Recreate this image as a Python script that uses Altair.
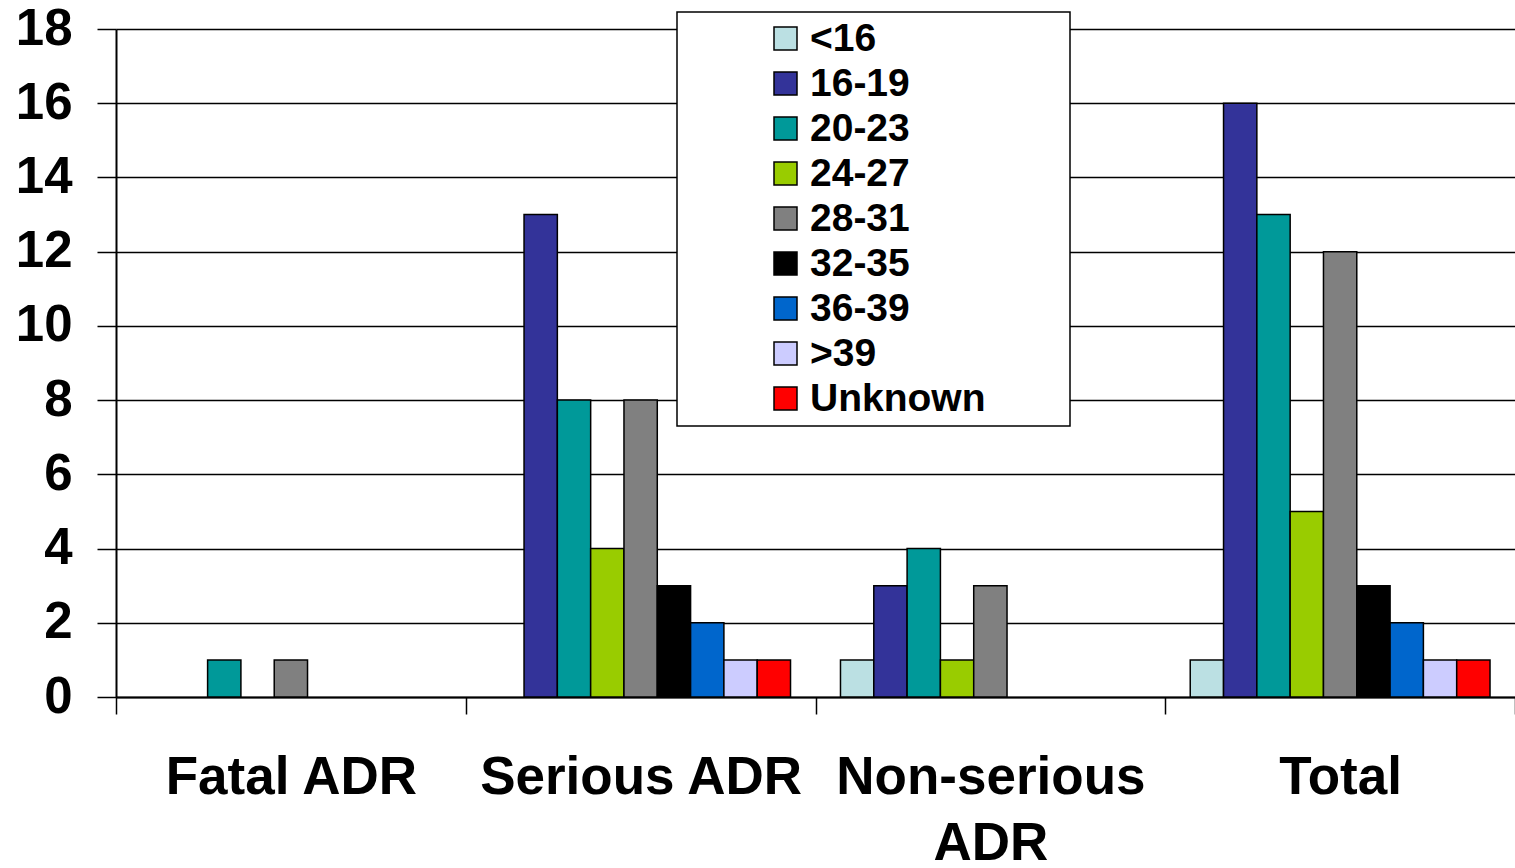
import altair as alt
import pandas as pd

categories = ["Fatal ADR", "Serious ADR", "Non-serious ADR", "Total"]
age_groups = ["<16", "16-19", "20-23", "24-27", "28-31", "32-35", "36-39", ">39", "Unknown"]
colors = ["#BBE0E3", "#333399", "#009999", "#99CC00", "#808080", "#000000", "#0066CC", "#CCCCFF", "#FF0000"]

fatal_adr = [0, 0, 1, 0, 1, 0, 0, 0, 0]
serious_adr = [0, 13, 8, 4, 8, 3, 2, 1, 1]
nonserious_adr = [1, 3, 4, 1, 3, 0, 0, 0, 0]
total_adr = [1, 16, 13, 5, 12, 3, 2, 1, 1]

series = [fatal_adr, serious_adr, nonserious_adr, total_adr]
rows = []
for cat, vals in zip(categories, series):
    for g, v in zip(age_groups, vals):
        if v > 0:
            rows.append({"category": cat, "age": g, "value": v})
df = pd.DataFrame(rows)

FONT = "Liberation Sans"

bars = alt.Chart(df).mark_bar(stroke="black", strokeWidth=1.5).encode(
    x=alt.X("category:N", sort=categories,
            scale=alt.Scale(domain=categories, paddingInner=0, paddingOuter=0),
            axis=alt.Axis(title=None, labelAngle=0, labelFontSize=53, labelFont=FONT,
                          labelFontWeight="bold", labelColor="black", tickBand="extent",
                          tickSize=17, tickColor="black", tickWidth=1.5, domainColor="black",
                          domainWidth=2, labelPadding=37, labelLineHeight=66,
                          labelOverlap=False, labelLimit=1000,
                          labelExpr="datum.label == 'Non-serious ADR' ? ['Non-serious', 'ADR'] : datum.label")),
    xOffset=alt.XOffset("age:N", sort=age_groups,
                        scale=alt.Scale(domain=age_groups, paddingInner=0, paddingOuter=0.75)),
    y=alt.Y("value:Q", scale=alt.Scale(domain=[0, 18], nice=False),
            axis=alt.Axis(title=None, values=list(range(0, 19, 2)), labelFontSize=51, labelFont=FONT,
                          labelFontWeight="bold", labelColor="black", tickSize=19, tickColor="black",
                          tickWidth=1.5, domainColor="black", domainWidth=2, gridColor="black",
                          gridWidth=1.5, labelPadding=25)),
    color=alt.Color("age:N", sort=age_groups,
                    scale=alt.Scale(domain=age_groups, range=colors),
                    legend=alt.Legend(title=None, orient="none", legendX=650, legendY=-10,
                                      symbolType="square", symbolSize=529, symbolStrokeColor="black",
                                      symbolStrokeWidth=1.5, labelFontSize=39, labelFont=FONT,
                                      labelFontWeight="bold", labelColor="black", labelOffset=5,
                                      labelLimit=1000, rowPadding=5, padding=0, symbolOpacity=1)),
)

legend_box = alt.Chart(alt.Data(values=[{}])).mark_rect(
    fill="white", stroke="black", strokeWidth=1.5
).encode(
    x=alt.value(561), x2=alt.value(954), y=alt.value(-17), y2=alt.value(397)
)

chart = alt.layer(legend_box, bars).properties(
    width=1399, height=668,
    autosize=alt.AutoSizeParams(type="none"),
    padding={"left": 116, "top": 29, "right": 0, "bottom": 171},
).configure_view(stroke=None).configure(background="white")

chart.save("out.html", embed_options={"renderer": "svg", "actions": False})
